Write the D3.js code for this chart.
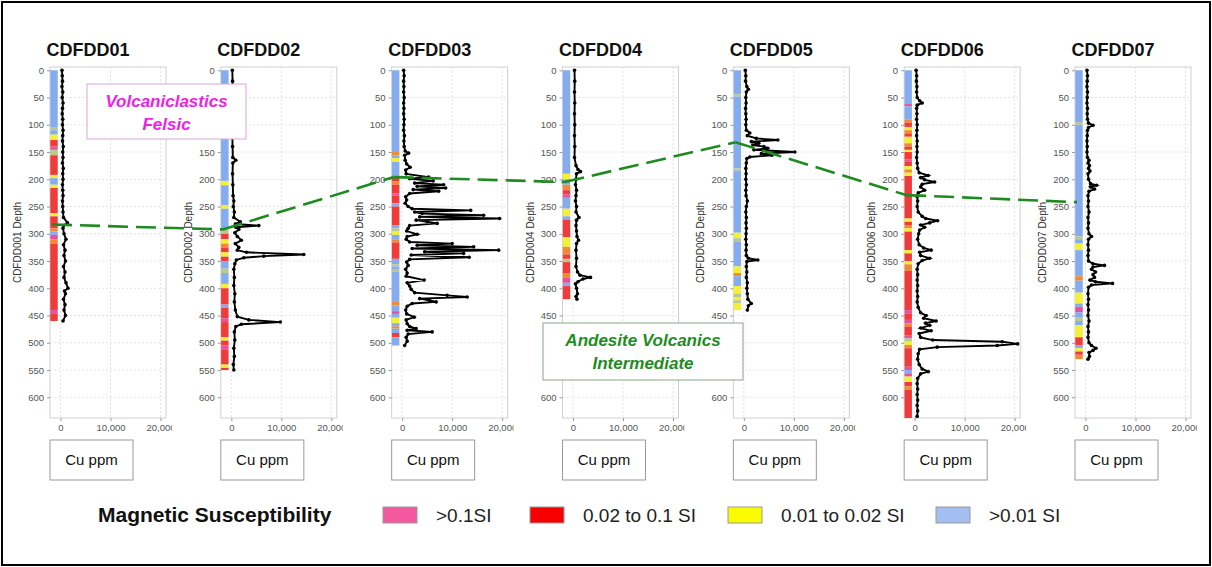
<!DOCTYPE html>
<html>
<head>
<meta charset="utf-8">
<style>
body { margin: 0; background: #fff; }
svg { display: block; font-family: Arial, "Liberation Sans", sans-serif; }
.frame { fill: none; stroke: #d0d0d0; }
.grid line { stroke: #e4e4e4; stroke-dasharray: 2,2; }
.axis path { stroke: none; }
.axis line { stroke: #999; }
.axis text { fill: #555; font-size: 9.5px; }
.title { font-size: 18px; font-weight: bold; fill: #111; }
.ylab { font-size: 10px; fill: #333; }
.cu { fill: none; stroke: #000; stroke-width: 1.9px; }
.cubox { fill: #fff; stroke: #999; }
</style>
</head>
<body>
<script src="https://cdnjs.cloudflare.com/ajax/libs/d3/7.8.5/d3.min.js"></script>
<script>
/* global d3 */

var holes = ["CDFDD01", "CDFDD02", "CDFDD03", "CDFDD04", "CDFDD05", "CDFDD06", "CDFDD07"];
var depthTitles = ["CDFDD001 Depth", "CDFDD002 Depth", "CDFDD003 Depth", "CDFDD004 Depth",
                   "CDFDD005 Depth", "CDFDD006 Depth", "CDFDD007 Depth"];
var depthTicks = [0, 50, 100, 150, 200, 250, 300, 350, 400, 450, 500, 550, 600];
var cuTicks = [0, 10000, 20000];

// Cu ppm down hole: [depth, Cu]
var cu01 = [[0,300],[10,350],[20,400],[30,300],[40,450],[50,350],[60,500],[70,400],[80,350],[90,450],[100,400],[110,500],[120,450],[130,400],[140,550],[150,450],[160,500],[170,400],[180,550],[190,450],[200,500],[210,400],[220,450],[230,500],[240,400],[250,450],[260,500],[270,600],[280,1400],[285,600],[290,500],[300,700],[310,1100],[320,600],[330,900],[340,700],[350,1000],[360,600],[370,900],[380,700],[390,1100],[400,1500],[405,800],[410,1000],[420,600],[430,900],[440,700],[450,1000],[460,500]];
var cu02 = [[0,200],[20,250],[40,200],[60,250],[80,200],[100,250],[120,200],[140,250],[160,300],[165,900],[170,300],[190,250],[210,300],[230,350],[240,500],[250,400],[260,600],[270,500],[278,1800],[282,800],[285,5500],[288,900],[292,1500],[298,700],[305,1200],[312,2000],[318,800],[325,1500],[330,1200],[334,3000],[338,14500],[341,6500],[344,2500],[348,1000],[355,700],[365,500],[380,600],[395,500],[410,700],[425,600],[440,800],[452,1200],[458,3500],[462,9800],[466,2000],[470,900],[480,600],[495,700],[510,500],[525,600],[540,400],[550,500]];
var cu03 = [[0,300],[10,400],[20,300],[30,350],[40,300],[50,400],[60,300],[70,350],[80,300],[90,400],[100,350],[110,300],[120,450],[130,350],[140,400],[148,600],[152,1300],[156,500],[165,600],[172,900],[178,1600],[183,700],[190,800],[196,5300],[199,1500],[203,6200],[207,2500],[210,8300],[213,3000],[216,8700],[219,2200],[222,7300],[226,1500],[232,700],[238,900],[244,600],[250,1200],[254,2000],[257,13700],[260,2500],[263,4000],[266,16300],[269,3500],[272,19500],[275,2800],[278,5000],[281,7000],[285,1500],[290,1200],[295,900],[301,3000],[305,1000],[310,800],[315,1500],[318,10000],[321,3000],[324,14300],[327,2000],[330,19300],[333,4500],[336,12300],[339,1800],[343,13400],[347,1500],[352,900],[358,1200],[365,700],[372,1000],[378,800],[385,4400],[390,1000],[396,1500],[402,1800],[408,2500],[413,9000],[416,13000],[419,3500],[422,5400],[425,6800],[428,2000],[433,1000],[440,700],[447,900],[453,2400],[458,800],[465,1000],[470,1500],[474,2800],[477,1000],[480,6000],[484,1200],[490,800],[497,1000],[505,500]];
var cu04 = [[0,300],[20,350],[40,300],[60,350],[80,300],[100,350],[120,300],[140,350],[160,300],[175,600],[182,1000],[186,1500],[190,700],[200,600],[210,500],[220,700],[230,600],[240,500],[250,700],[260,600],[270,1200],[275,700],[285,600],[295,700],[305,800],[312,1100],[318,700],[330,600],[345,700],[360,600],[370,900],[376,1400],[380,3500],[383,2000],[388,1000],[392,500],[400,700],[410,900],[415,600],[420,800]];
var cu05 = [[0,300],[10,400],[20,350],[30,600],[35,900],[40,500],[50,400],[60,450],[70,350],[80,400],[90,450],[100,400],[110,500],[115,1200],[120,700],[125,2500],[128,6800],[131,1500],[134,3000],[137,1800],[140,4000],[143,4800],[146,2000],[150,10200],[153,3500],[156,5600],[159,1200],[162,600],[170,500],[180,400],[190,450],[200,400],[210,500],[220,400],[230,450],[240,700],[250,500],[260,400],[270,500],[280,450],[290,500],[300,450],[310,400],[320,500],[330,450],[340,500],[345,900],[348,2800],[351,600],[360,500],[370,600],[380,500],[390,700],[400,600],[410,700],[420,800],[428,1500],[432,900],[440,700]];
var cu06 = [[0,300],[10,400],[20,350],[30,450],[40,400],[50,500],[56,1000],[60,1500],[64,500],[70,400],[80,450],[90,400],[100,500],[110,450],[120,400],[130,500],[140,450],[150,500],[160,400],[170,500],[180,600],[188,900],[193,2700],[197,1200],[201,2000],[205,4000],[209,1500],[214,1200],[220,2000],[225,700],[232,500],[240,600],[250,500],[260,700],[268,1500],[272,2200],[276,4600],[280,3000],[284,1200],[288,2000],[293,1000],[300,800],[310,600],[320,900],[326,1800],[330,3300],[334,1000],[340,1200],[345,3000],[349,1500],[355,700],[365,500],[375,600],[385,500],[395,600],[405,500],[415,600],[425,500],[435,700],[445,1200],[450,2300],[455,1800],[460,4300],[464,2200],[468,3000],[473,1200],[478,3300],[483,900],[490,1200],[495,3600],[498,17500],[502,20600],[505,16500],[508,4500],[512,1000],[520,700],[530,600],[540,900],[548,1500],[553,2700],[557,1200],[565,600],[575,500],[585,600],[595,500],[605,600],[615,500],[625,600],[635,500]];
var cu07 = [[0,300],[10,400],[20,350],[30,300],[40,400],[50,350],[60,300],[70,400],[80,350],[90,400],[97,600],[101,1500],[105,600],[110,400],[120,350],[130,300],[140,350],[150,300],[160,400],[165,700],[170,500],[175,800],[180,600],[185,900],[190,500],[200,600],[208,1000],[211,2200],[214,1000],[218,1800],[222,700],[230,500],[240,600],[250,500],[260,700],[270,500],[280,600],[290,500],[300,700],[305,1200],[310,600],[320,500],[330,600],[340,500],[350,600],[355,1500],[358,3800],[361,1500],[365,1200],[370,2000],[375,1500],[380,1800],[385,900],[388,2000],[391,5400],[394,1200],[398,600],[410,500],[420,600],[430,500],[440,600],[450,500],[460,700],[470,500],[480,600],[490,500],[500,700],[505,1200],[510,2100],[514,1500],[518,700],[525,800],[530,500]];
var cuData = [cu01, cu02, cu03, cu04, cu05, cu06, cu07];

// magnetic susceptibility log: [from, to, class]
var ms01 = [[0,104,"b"],[104,110,"g"],[110,118,"b"],[118,128,"y"],[128,140,"r"],[140,146,"p"],[146,156,"g"],[156,192,"r"],[192,198,"y"],[198,210,"b"],[210,216,"y"],[216,262,"r"],[262,268,"y"],[268,290,"r"],[290,296,"o"],[296,302,"b"],[302,310,"p"],[310,318,"o"],[318,440,"r"],[440,447,"p"],[447,460,"r"]];
var ms02 = [[0,203,"b"],[203,211,"y"],[211,248,"b"],[248,254,"y"],[254,292,"b"],[292,300,"g"],[300,310,"r"],[310,318,"y"],[318,326,"o"],[326,334,"r"],[334,342,"y"],[342,350,"r"],[350,364,"b"],[364,372,"g"],[372,392,"b"],[392,400,"y"],[400,430,"r"],[430,436,"b"],[436,455,"r"],[455,462,"p"],[462,490,"r"],[490,496,"y"],[496,505,"r"],[505,512,"p"],[512,540,"r"],[540,546,"y"],[546,550,"r"]];
var ms03 = [[0,150,"b"],[150,156,"o"],[156,161,"b"],[161,168,"y"],[168,196,"b"],[196,204,"r"],[204,210,"o"],[210,226,"r"],[226,230,"p"],[230,244,"r"],[244,250,"b"],[250,284,"r"],[284,290,"b"],[290,296,"g"],[296,302,"y"],[302,310,"b"],[310,316,"o"],[316,346,"r"],[346,356,"b"],[356,360,"g"],[360,366,"b"],[366,370,"g"],[370,425,"b"],[425,431,"o"],[431,442,"b"],[442,447,"p"],[447,454,"b"],[454,464,"y"],[464,470,"b"],[470,474,"o"],[474,482,"b"],[482,490,"r"],[490,505,"b"]];
var ms04 = [[0,190,"b"],[190,200,"y"],[200,210,"b"],[210,220,"o"],[220,228,"r"],[228,234,"p"],[234,254,"b"],[254,268,"y"],[268,274,"b"],[274,306,"r"],[306,324,"y"],[324,338,"o"],[338,346,"r"],[346,352,"g"],[352,372,"r"],[372,380,"o"],[380,390,"p"],[390,396,"b"],[396,420,"r"]];
var ms05 = [[0,44,"b"],[44,48,"g"],[48,180,"b"],[180,184,"g"],[184,298,"b"],[298,308,"y"],[308,314,"g"],[314,360,"b"],[360,372,"y"],[372,378,"o"],[378,396,"b"],[396,410,"y"],[410,416,"g"],[416,422,"y"],[422,428,"g"],[428,440,"y"]];
var ms06 = [[0,62,"b"],[62,66,"p"],[66,90,"b"],[90,96,"o"],[96,104,"r"],[104,110,"y"],[110,116,"o"],[116,122,"r"],[122,134,"y"],[134,140,"o"],[140,146,"r"],[146,150,"y"],[150,164,"r"],[164,168,"p"],[168,176,"r"],[176,182,"y"],[182,188,"o"],[188,194,"y"],[194,272,"r"],[272,278,"y"],[278,284,"r"],[284,290,"o"],[290,296,"y"],[296,330,"r"],[330,336,"y"],[336,350,"r"],[350,356,"y"],[356,368,"o"],[368,440,"r"],[440,446,"p"],[446,458,"r"],[458,464,"p"],[464,470,"o"],[470,486,"r"],[486,492,"p"],[492,498,"g"],[498,504,"y"],[504,510,"o"],[510,544,"r"],[544,550,"p"],[550,556,"b"],[556,562,"p"],[562,572,"y"],[572,580,"r"],[580,586,"o"],[586,640,"r"]];
var ms07 = [[0,95,"b"],[95,100,"g"],[100,305,"b"],[305,310,"g"],[310,318,"b"],[318,330,"y"],[330,378,"b"],[378,386,"o"],[386,408,"b"],[408,428,"y"],[428,434,"b"],[434,444,"p"],[444,454,"b"],[454,460,"g"],[460,468,"b"],[468,490,"y"],[490,504,"r"],[504,510,"b"],[510,516,"y"],[516,522,"r"],[522,530,"o"]];
var msData = [ms01, ms02, ms03, ms04, ms05, ms06, ms07];

// depth of the felsic / intermediate contact in each hole
var contactDepth = [283, 292, 196, 205, 132, 229, 242];

var legendKeys = ["p", "r", "y", "b"];
var legendLabels = [">0.1SI", "0.02 to 0.1 SI", "0.01 to 0.02 SI", ">0.01 SI"];

var msColor = { b: "#86acf0", y: "#f4f035", r: "#f03b3b", p: "#e4529e", o: "#f18a32", g: "#b8c98e" };
var legendColor = { p: "#f4589f", r: "#f80000", y: "#fafa00", b: "#a3bff2" };

var W = 1212, H = 567;
var plotW = 116, plotTop = 67, plotBottom = 418;

var svg = d3.select("body").append("svg")
    .attr("width", W)
    .attr("height", H);

svg.append("rect")
    .attr("x", 2).attr("y", 2)
    .attr("width", W - 4).attr("height", H - 4)
    .attr("fill", "#fff").attr("stroke", "#000").attr("stroke-width", 2);

var panelX = d3.scaleLinear().domain([0, holes.length - 1]).range([50, 1075]);
var y = d3.scaleLinear().domain([-6, 638]).range([plotTop, plotBottom]);
var x = d3.scaleLinear().domain([-2100, 21100]).range([0, plotW]);

var defs = svg.append("defs");
defs.append("clipPath").attr("id", "plotclip")
  .append("rect").attr("x", 0).attr("y", plotTop).attr("width", plotW).attr("height", plotBottom - plotTop);
defs.append("clipPath").attr("id", "panelclip")
  .append("rect").attr("x", -60).attr("y", 0).attr("width", plotW + 66).attr("height", H);

var line = d3.line()
    .x(function(d) { return x(d[1]); })
    .y(function(d) { return y(d[0]); });

holes.forEach(function(name, i) {
  var g = svg.append("g")
      .attr("transform", "translate(" + panelX(i) + ",0)");

  g.append("text")
      .attr("class", "title")
      .attr("x", 38).attr("y", 56)
      .attr("text-anchor", "middle")
      .text(name);

  var grid = g.append("g").attr("class", "grid");
  grid.selectAll(".h").data(depthTicks.slice(1)).enter().append("line")
      .attr("x1", 0).attr("x2", plotW)
      .attr("y1", function(d) { return y(d); }).attr("y2", function(d) { return y(d); });
  grid.selectAll(".v").data(cuTicks).enter().append("line")
      .attr("y1", plotTop).attr("y2", plotBottom)
      .attr("x1", function(d) { return x(d); }).attr("x2", function(d) { return x(d); });

  g.append("rect")
      .attr("class", "frame")
      .attr("x", 0).attr("y", plotTop)
      .attr("width", plotW).attr("height", plotBottom - plotTop);

  var clipped = g.append("g").attr("clip-path", "url(#panelclip)");

  clipped.append("g")
      .attr("class", "axis")
      .call(d3.axisLeft(y).tickValues(depthTicks).tickSize(3).tickPadding(3));

  clipped.append("g")
      .attr("class", "axis")
      .attr("transform", "translate(0," + plotBottom + ")")
      .call(d3.axisBottom(x).tickValues(cuTicks).tickSize(3).tickPadding(3).tickFormat(d3.format(",")));

  g.append("text")
      .attr("class", "ylab")
      .attr("transform", "translate(-29," + ((plotTop + plotBottom) / 2) + ") rotate(-90)")
      .attr("text-anchor", "middle")
      .text(depthTitles[i]);

  var plot = g.append("g").attr("clip-path", "url(#plotclip)");

  plot.selectAll(".ms").data(msData[i]).enter().append("rect")
      .attr("x", x(-2050))
      .attr("width", x(-550) - x(-2050))
      .attr("y", function(d) { return y(d[0]); })
      .attr("height", function(d) { return y(d[1]) - y(d[0]); })
      .attr("fill", function(d) { return msColor[d[2]]; });

  plot.append("path")
      .datum(cuData[i])
      .attr("class", "cu")
      .attr("d", line);

  plot.selectAll(".pt").data(cuData[i]).enter().append("circle")
      .attr("cx", function(d) { return x(d[1]); })
      .attr("cy", function(d) { return y(d[0]); })
      .attr("r", 1.8)
      .attr("fill", "#000");

  g.append("rect")
      .attr("class", "cubox")
      .attr("x", 0).attr("y", 440)
      .attr("width", 83).attr("height", 40);
  g.append("text")
      .attr("x", 41.5).attr("y", 465)
      .attr("text-anchor", "middle")
      .attr("font-size", 15)
      .attr("fill", "#111")
      .text("Cu ppm");
});

// correlation of the contact between holes
var contact = contactDepth.map(function(d, i) { return [panelX(i) + x(-1700), y(d)]; });
svg.append("g").selectAll("line")
    .data(d3.pairs(contact))
  .enter().append("line")
    .attr("x1", function(d) { return d[0][0]; })
    .attr("y1", function(d) { return d[0][1]; })
    .attr("x2", function(d) { return d[1][0]; })
    .attr("y2", function(d) { return d[1][1]; })
    .attr("stroke", "#1f8a1f")
    .attr("stroke-width", 2.6)
    .attr("stroke-dasharray", "20,8");

// unit annotations (they sit over some tick labels, which are then dropped)
var noteBoxes = [];
function note(x0, y0, w, h, border, color, lines) {
  noteBoxes.push([x0, y0, x0 + w, y0 + h]);
  var a = svg.append("g");
  a.append("rect")
      .attr("x", x0).attr("y", y0).attr("width", w).attr("height", h)
      .attr("fill", "#fff").attr("stroke", border);
  a.selectAll("text").data(lines).enter().append("text")
      .attr("x", x0 + w / 2)
      .attr("y", function(d, k) { return y0 + 23 + k * 23; })
      .attr("text-anchor", "middle")
      .attr("font-size", 17)
      .attr("font-weight", "bold")
      .attr("font-style", "italic")
      .attr("fill", color)
      .text(function(d) { return d; });
}
note(87, 84, 159, 55, "#d9a6d9", "#ee22e6", ["Volcaniclastics", "Felsic"]);
note(543, 323, 200, 57, "#8aa58a", "#1e8c1e", ["Andesite Volcanics", "Intermediate"]);

svg.selectAll(".axis .tick").each(function() {
  var r = this.getBoundingClientRect();
  var hidden = noteBoxes.some(function(b) {
    return r.right > b[0] && r.left < b[2] && r.bottom > b[1] && r.top < b[3];
  });
  if (hidden) d3.select(this).remove();
});

// legend
var legend = svg.append("g").attr("class", "legend");
legend.append("text")
    .attr("x", 98).attr("y", 522)
    .attr("font-size", 21)
    .attr("font-weight", "bold")
    .attr("fill", "#111")
    .text("Magnetic Susceptibility");

var legendX = d3.scaleOrdinal().domain(legendKeys).range([383, 530, 728, 936]);
var item = legend.selectAll(".item").data(legendKeys).enter().append("g")
    .attr("transform", function(d) { return "translate(" + legendX(d) + ",507)"; });
item.append("rect")
    .attr("width", 34).attr("height", 16)
    .attr("fill", function(d) { return legendColor[d]; })
    .attr("stroke", "#999");
item.append("text")
    .attr("x", 53).attr("y", 15)
    .attr("font-size", 19)
    .attr("fill", "#222")
    .text(function(d, k) { return legendLabels[k]; });
</script>
</body>
</html>
